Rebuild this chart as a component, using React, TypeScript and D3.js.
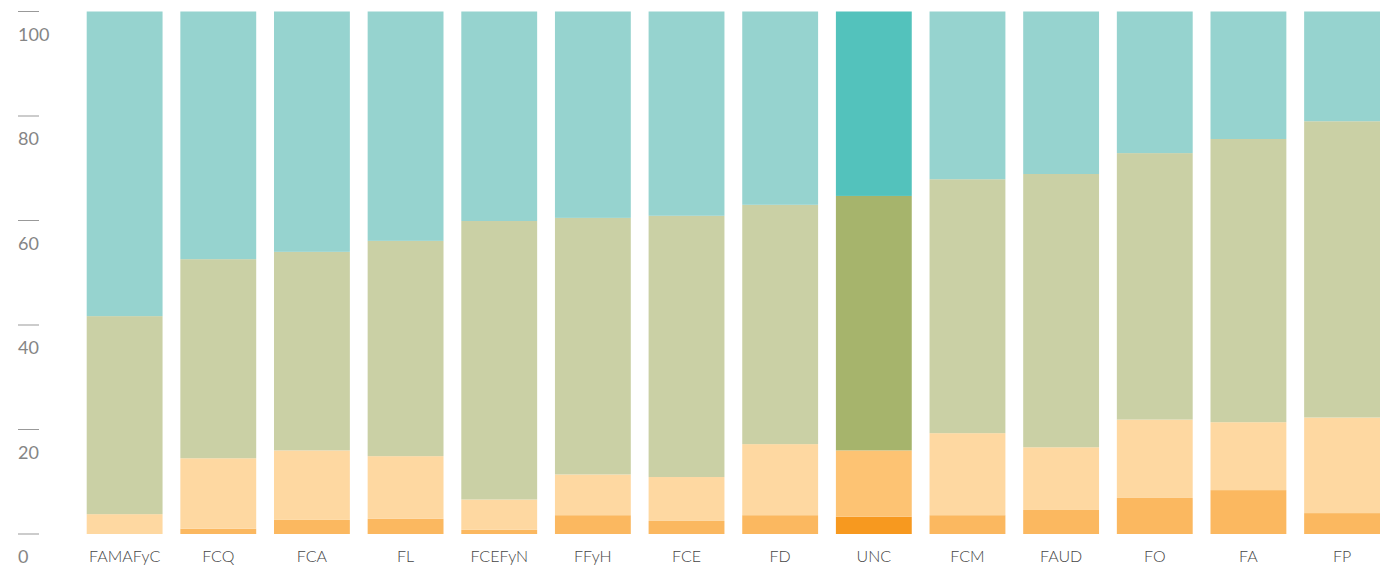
import React, { useEffect, useRef } from 'react';
import * as d3 from 'd3';

// facultades, en el orden del gráfico
const facultades = ['FAMAFyC', 'FCQ', 'FCA', 'FL', 'FCEFyN', 'FFyH', 'FCE', 'FD', 'UNC', 'FCM', 'FAUD', 'FO', 'FA', 'FP'];

// porcentajes de cada tramo (de abajo hacia arriba)
const tramo1 = [0, 1.0, 2.7, 2.9, 0.8, 3.6, 2.5, 3.6, 3.3, 3.6, 4.6, 6.9, 8.4, 4.0];
const tramo2 = [3.8, 13.5, 13.3, 12.0, 5.8, 7.8, 8.4, 13.6, 12.7, 15.7, 12.0, 15.0, 13.0, 18.3];
const tramo3 = [37.9, 38.1, 38.0, 41.2, 53.3, 49.1, 50.0, 45.8, 48.7, 48.6, 52.3, 51.0, 54.2, 56.7];
const tramo4 = [58.3, 47.4, 46.0, 43.9, 40.1, 39.5, 39.1, 37.0, 35.3, 32.1, 31.1, 27.1, 24.4, 21.0];

const yTicks = [0, 20, 40, 60, 80, 100];

const keys = ['t1', 't2', 't3', 't4'];
const colores = ['#fbb860', '#fed8a1', '#cad0a5', '#96d3cf'];
const coloresUNC = ['#f7991f', '#fdc373', '#a6b46c', '#53c2bc'];

const W = 1398, H = 572;

export default function App() {
  const ref = useRef<SVGSVGElement>(null);

  useEffect(() => {
    if (!ref.current) return;
    const svg = d3.select(ref.current);
    svg.selectAll('*').remove();

    const rows = facultades.map((f, i) => ({
      f, t1: tramo1[i], t2: tramo2[i], t3: tramo3[i], t4: tramo4[i],
    }));

    const x = d3.scaleBand<string>().domain(facultades).range([86.7, 1380]).paddingInner(0.19).paddingOuter(0);
    const y = d3.scaleLinear().domain([0, 100]).range([534, 11.5]);

    const series = d3.stack<any>().keys(keys)(rows);

    // barras apiladas
    svg.append('g').selectAll('g')
      .data(series)
      .join('g')
      .each(function (s, si) {
        d3.select(this).selectAll('rect')
          .data(s)
          .join('rect')
          .attr('x', d => x(d.data.f)!)
          .attr('width', x.bandwidth())
          .attr('y', d => y(d[1]))
          .attr('height', d => Math.max(0, y(d[0]) - y(d[1])))
          .attr('fill', d => (d.data.f === 'UNC' ? coloresUNC[si] : colores[si]));
      });

    // eje y: rayita + número debajo
    const ay = svg.append('g');
    yTicks.forEach(t => {
      ay.append('line')
        .attr('x1', 18).attr('x2', 39)
        .attr('y1', y(t)).attr('y2', y(t))
        .attr('stroke', '#999').attr('stroke-width', 1);
      ay.append('text')
        .attr('x', 18).attr('y', y(t) + 29)
        .attr('font-family', 'Lato, sans-serif')
        .attr('font-weight', 400)
        .attr('font-size', 18)
        .attr('fill', '#858585')
        .text(t);
    });

    // etiquetas de facultades
    svg.append('g').selectAll('text')
      .data(facultades)
      .join('text')
      .attr('x', d => x(d)! + x.bandwidth() / 2)
      .attr('y', 561.7)
      .attr('text-anchor', 'middle')
      .attr('font-family', 'Lato, sans-serif')
      .attr('font-weight', 300)
      .attr('font-size', 16)
      .attr('fill', '#444')
      .text(d => d);
  }, []);

  return (
    <div style={{ position: 'absolute', left: 0, top: 0, background: '#fff' }}>
      <svg ref={ref} width={W} height={H}></svg>
    </div>
  );
}
